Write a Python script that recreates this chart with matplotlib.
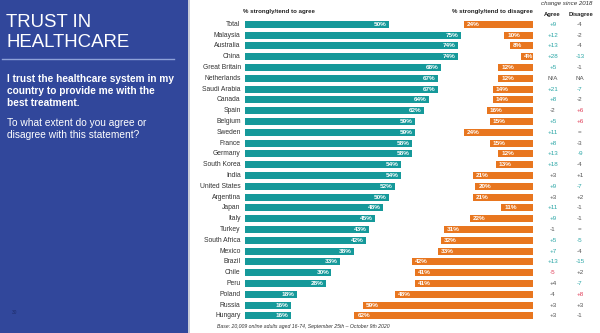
import matplotlib
matplotlib.use("Agg")
import matplotlib.pyplot as plt
from matplotlib.patches import Rectangle
from matplotlib.transforms import blended_transform_factory

plt.rcParams['font.family'] = ['Liberation Sans', 'DejaVu Sans']

countries = ["Total", "Malaysia", "Australia", "China", "Great Britain", "Netherlands",
             "Saudi Arabia", "Canada", "Spain", "Belgium", "Sweden", "France", "Germany",
             "South Korea", "India", "United States", "Argentina", "Japan", "Italy",
             "Turkey", "South Africa", "Mexico", "Brazil", "Chile", "Peru", "Poland",
             "Russia", "Hungary"]
agree = [50, 75, 74, 74, 68, 67, 67, 64, 62, 59, 59, 58, 58, 54, 54, 52, 50, 48, 45,
         43, 42, 38, 33, 30, 28, 18, 16, 16]
disagree = [24, 10, 8, 4, 12, 12, 14, 14, 16, 15, 24, 15, 12, 13, 21, 20, 21, 11, 22,
            31, 32, 33, 42, 41, 41, 48, 59, 62]
chg_agree = ["+9", "+12", "+13", "+28", "+5", "N/A", "+21", "+8", "-2", "+5", "+11", "+8",
             "+13", "+18", "+3", "+9", "+3", "+11", "+9", "-1", "+5", "+7", "+13", "-5",
             "+4", "-4", "+3", "+3"]
chg_disagree = ["-4", "-2", "-4", "-13", "-1", "NA", "-7", "-2", "+6", "+6", "=", "-3",
                "-9", "-4", "+1", "-7", "+2", "-1", "-1", "=", "-5", "-4", "-15", "+2",
                "-7", "+8", "+3", "-1"]
# significance: g = improved, b = worsened, n = not significant
sig_agree = ["g", "g", "g", "g", "g", "n", "g", "g", "n", "g", "g", "g", "g", "g", "n",
             "g", "n", "g", "g", "n", "g", "g", "g", "b", "n", "n", "n", "n"]
sig_disagree = ["n", "n", "n", "g", "n", "n", "g", "n", "b", "b", "n", "n", "g", "n", "n",
                "g", "n", "n", "n", "n", "g", "n", "g", "n", "g", "b", "n", "n"]

TEAL = "#15999A"
ORANGE = "#E8761F"
PANEL = "#31479B"
sigcol = {"g": "#2AA6A6", "b": "#E0405A", "n": "#555555"}

W, H = 600, 333
fig = plt.figure(figsize=(6, 3.33), dpi=100)
fig.patch.set_facecolor("white")

def fx(px):
    return px / W

def fy(py):
    return 1 - py / H

# left panel
fig.patches.append(Rectangle((0, 0), fx(188), 1, transform=fig.transFigure,
                             facecolor=PANEL, edgecolor="none", zorder=0))
fig.patches.append(Rectangle((fx(188), 0), fx(2), 1, transform=fig.transFigure,
                             facecolor="#C8CCD8", edgecolor="none", zorder=0))
fig.text(fx(6), fy(27), "TRUST IN", color="white", fontsize=13.4, va="baseline", ha="left")
fig.text(fx(6), fy(47), "HEALTHCARE", color="white", fontsize=13.4, va="baseline", ha="left")
fig.lines.append(plt.Line2D([fx(2), fx(174)], [fy(59), fy(59)], transform=fig.transFigure,
                            color="#8EA2D9", linewidth=1.0))
for i, line in enumerate(["I trust the healthcare system in my",
                          "country to provide me with the",
                          "best treatment."]):
    fig.text(fx(7), fy(82 + 12 * i), line, color="white", fontsize=7.3,
             fontweight="bold", va="baseline", ha="left")
for i, line in enumerate(["To what extent do you agree or",
                          "disagree with this statement?"]):
    fig.text(fx(7), fy(126 + 12.5 * i), line, color="white", fontsize=7.3,
             va="baseline", ha="left")
fig.text(fx(12), fy(313), "30", color="#1E2C6A", fontsize=3.5, va="center", ha="left")

# bar axes
n = len(countries)
top_px, bot_px = 18.9, 321.3
left_px, right_px = 245, 533
rect = [fx(left_px), fy(bot_px), fx(right_px - left_px), (bot_px - top_px) / H]
axA = fig.add_axes(rect)
axD = fig.add_axes(rect)
for ax in (axA, axD):
    ax.set_ylim(n - 0.5, -0.5)
    ax.axis("off")
    ax.patch.set_alpha(0)
axA.set_xlim(0, 100)
axD.set_xlim(100, 0)

ys = list(range(n))
axA.barh(ys, agree, height=0.66, color=TEAL, edgecolor="none")
axD.barh(ys, disagree, height=0.66, color=ORANGE, edgecolor="none")

for i in ys:
    axA.text(agree[i] - 0.8, i, f"{agree[i]}%", color="white", fontsize=4.6,
             fontweight="bold", ha="right", va="center")
    axD.text(disagree[i] - 1.0, i, f"{disagree[i]}%", color="white", fontsize=4.6,
             fontweight="bold", ha="left", va="center")
    axA.text(-1.5, i, countries[i], color="#333333", fontsize=4.9, ha="right", va="center")

trans = blended_transform_factory(fig.transFigure, axA.transData)
for i in ys:
    axA.text(fx(553), i, chg_agree[i], transform=trans, color=sigcol[sig_agree[i]],
             fontsize=4.5, ha="center", va="center")
    axA.text(fx(580), i, chg_disagree[i], transform=trans, color=sigcol[sig_disagree[i]],
             fontsize=4.5, ha="center", va="center")

# headers
fig.text(fx(243), fy(12.5), "% strongly/tend to agree", color="#222222", fontsize=4.4,
         fontweight="bold", va="baseline", ha="left")
fig.text(fx(533), fy(12.5), "% strongly/tend to disagree", color="#222222", fontsize=4.4,
         fontweight="bold", va="baseline", ha="right")
fig.text(fx(567), fy(5.5), "change since 2018", color="#333333", fontsize=4.4,
         fontstyle="italic", va="baseline", ha="center")
fig.text(fx(552), fy(16), "Agree", color="#222222", fontsize=4.2, fontweight="bold",
         va="baseline", ha="center")
fig.text(fx(581), fy(16), "Disagree", color="#222222", fontsize=4.2, fontweight="bold",
         va="baseline", ha="center")
fig.text(fx(303), fy(328), "Base: 20,009 online adults aged 16-74, September 25th \u2013 October 9th 2020",
         color="#333333", fontsize=3.7, fontstyle="italic", va="baseline", ha="center")

fig.savefig("out.png", dpi=100, facecolor="white")
